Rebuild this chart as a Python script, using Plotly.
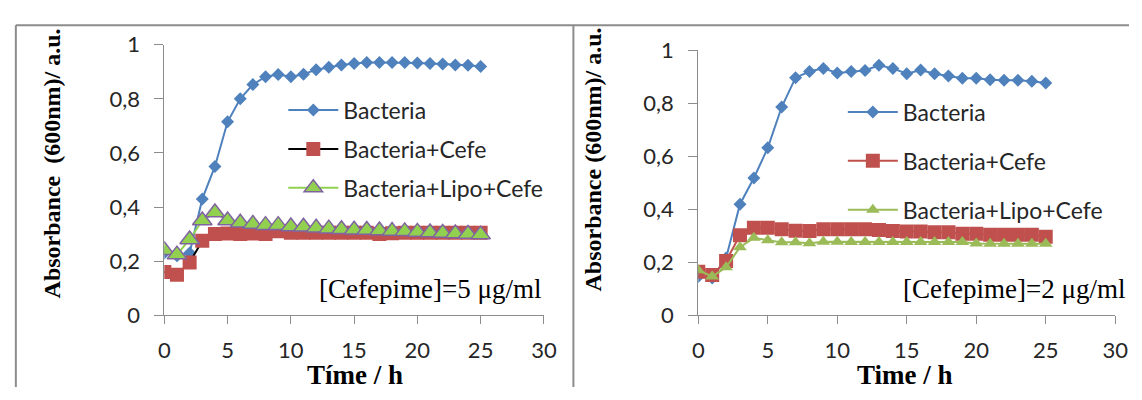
import plotly.graph_objects as go

# Sampling times (h)
time_h = list(range(26))

# [Cefepime] = 5 ug/ml
bact_5 = [0.23, 0.22, 0.23, 0.43, 0.55, 0.715, 0.80, 0.853, 0.882, 0.89, 0.882, 0.891, 0.908,
          0.917, 0.925, 0.931, 0.934, 0.934, 0.934, 0.934, 0.933, 0.931, 0.929, 0.925, 0.924, 0.92]
cefe_5 = [0.16, 0.15, 0.195, 0.275, 0.30, 0.302, 0.30, 0.302, 0.30, 0.31, 0.305, 0.305, 0.305,
          0.305, 0.305, 0.305, 0.305, 0.30, 0.303, 0.305, 0.305, 0.305, 0.305, 0.305, 0.305, 0.305]
lipo_5 = [0.24, 0.224, 0.28, 0.35, 0.38, 0.35, 0.342, 0.337, 0.333, 0.333, 0.328, 0.327, 0.323,
          0.32, 0.318, 0.316, 0.315, 0.313, 0.311, 0.31, 0.308, 0.306, 0.304, 0.302, 0.30, 0.298]

# [Cefepime] = 2 ug/ml
bact_2 = [0.146, 0.14, 0.216, 0.419, 0.518, 0.632, 0.786, 0.897, 0.92, 0.932, 0.915, 0.92, 0.924,
          0.944, 0.932, 0.912, 0.926, 0.912, 0.903, 0.895, 0.895, 0.889, 0.887, 0.887, 0.883, 0.877]
cefe_2 = [0.164, 0.152, 0.205, 0.302, 0.33, 0.33, 0.325, 0.319, 0.318, 0.325, 0.325, 0.325, 0.325,
          0.322, 0.318, 0.316, 0.316, 0.313, 0.313, 0.308, 0.308, 0.304, 0.304, 0.304, 0.304, 0.296]
lipo_2 = [0.17, 0.146, 0.181, 0.257, 0.292, 0.283, 0.275, 0.275, 0.272, 0.277, 0.277, 0.276, 0.276,
          0.276, 0.276, 0.276, 0.276, 0.276, 0.276, 0.276, 0.271, 0.27, 0.27, 0.27, 0.27, 0.27]

series_names = ["Bacteria", "Bacteria+Cefe", "Bacteria+Lipo+Cefe"]
y_ticks = [0, 0.2, 0.4, 0.6, 0.8, 1]
x_ticks = [0, 5, 10, 15, 20, 25, 30]

BLUE = "#4F81BD"
RED = "#C0504D"
GREEN_L = "#92D050"
GREEN_R = "#9BBB59"
PURPLE = "#8064A2"

W, H = 1142, 400


def px_x(p):
    return p / W


def px_y(p):
    return 1 - p / H


fig = go.Figure()

# left panel traces
fig.add_trace(go.Scatter(x=time_h, y=bact_5, name=series_names[0], mode="lines+markers",
                         line=dict(color=BLUE, width=2),
                         marker=dict(symbol="diamond", size=10, color=BLUE),
                         xaxis="x", yaxis="y", legend="legend", legendgroup="a"))
fig.add_trace(go.Scatter(x=time_h, y=cefe_5, name=series_names[1], mode="lines+markers",
                         line=dict(color="black", width=2),
                         marker=dict(symbol="square", size=14, color=RED),
                         xaxis="x", yaxis="y", legend="legend", legendgroup="b"))
fig.add_trace(go.Scatter(x=time_h, y=lipo_5, name=series_names[2], mode="lines+markers",
                         line=dict(color=GREEN_L, width=2),
                         marker=dict(symbol="triangle-up", size=17, color=GREEN_L,
                                     line=dict(color=PURPLE, width=1.5)),
                         xaxis="x", yaxis="y", legend="legend", legendgroup="c"))

# right panel traces
fig.add_trace(go.Scatter(x=time_h, y=bact_2, name=series_names[0], mode="lines+markers",
                         line=dict(color=BLUE, width=2),
                         marker=dict(symbol="diamond", size=10, color=BLUE),
                         xaxis="x2", yaxis="y2", legend="legend2", legendgroup="d"))
fig.add_trace(go.Scatter(x=time_h, y=cefe_2, name=series_names[1], mode="lines+markers",
                         line=dict(color=RED, width=2),
                         marker=dict(symbol="square", size=14, color=RED),
                         xaxis="x2", yaxis="y2", legend="legend2", legendgroup="e"))
fig.add_trace(go.Scatter(x=time_h, y=lipo_2, name=series_names[2], mode="lines+markers",
                         line=dict(color=GREEN_R, width=2),
                         marker=dict(symbol="triangle-up", size=12, color=GREEN_R),
                         xaxis="x2", yaxis="y2", legend="legend2", legendgroup="f"))

tick_font = dict(family="Lato", size=22, color="#262626")
axis_common = dict(showline=True, linecolor="#8C8C8C", linewidth=1, ticks="outside",
                   tickcolor="#8C8C8C", showgrid=False, zeroline=False, tickfont=tick_font)

legend_font = dict(family="Lato", size=23, color="#262626")

fig.update_layout(
    width=W, height=H,
    margin=dict(l=0, r=0, t=0, b=0),
    paper_bgcolor="white", plot_bgcolor="white",
    separators=", ",
    xaxis=dict(domain=[px_x(161), px_x(547)], range=[0, 30], tickvals=x_ticks,
               anchor="y", ticklen=8, ticklabelstandoff=7, **axis_common),
    yaxis=dict(domain=[px_y(323), px_y(33)], range=[0, 1], tickvals=y_ticks,
               anchor="x", ticklen=9, ticklabelstandoff=10, **axis_common),
    xaxis2=dict(domain=[px_x(704), px_x(1128)], range=[0, 30], tickvals=x_ticks,
                anchor="y2", ticklen=8, ticklabelstandoff=7, **axis_common),
    yaxis2=dict(domain=[px_y(323), px_y(39)], range=[0, 1], tickvals=y_ticks,
                anchor="x2", ticklen=9, ticklabelstandoff=10, **axis_common),
    legend=dict(x=px_x(282), xanchor="left", y=px_y(80), yanchor="top",
                bgcolor="rgba(0,0,0,0)", font=legend_font, tracegroupgap=6, itemwidth=50),
    legend2=dict(x=px_x(851), xanchor="left", y=px_y(82), yanchor="top",
                 bgcolor="rgba(0,0,0,0)", font=legend_font, tracegroupgap=16, itemwidth=50),
)

title_font = dict(family="Liberation Serif", size=24, color="black")
fig.add_annotation(text="<b>Absorbance  (600nm)/ a.u.</b>", textangle=-90, xref="paper", yref="paper",
                   x=px_x(47), y=px_y(160), xanchor="center", yanchor="middle",
                   showarrow=False, font=title_font)
fig.add_annotation(text="<b>Absorbance (600nm)/ a.u.</b>", textangle=-90, xref="paper", yref="paper",
                   x=px_x(597), y=px_y(156), xanchor="center", yanchor="middle",
                   showarrow=False, font=title_font)
xt_font = dict(family="Liberation Serif", size=27, color="black")
fig.add_annotation(text="<b>Tíme / h</b>", xref="paper", yref="paper", x=px_x(355), y=px_y(387),
                   xanchor="center", yanchor="middle", showarrow=False, font=xt_font)
fig.add_annotation(text="<b>Time / h</b>", xref="paper", yref="paper", x=px_x(914), y=px_y(387),
                   xanchor="center", yanchor="middle", showarrow=False, font=xt_font)

conc_font = dict(family="Liberation Serif", size=27, color="black")
fig.add_annotation(text="[Cefepime]=5 μg/ml", xref="paper", yref="paper", x=px_x(546), xanchor="right",
                   y=px_y(295), yanchor="middle", showarrow=False, font=conc_font)
fig.add_annotation(text="[Cefepime]=2 μg/ml", xref="paper", yref="paper", x=px_x(1140), xanchor="right",
                   y=px_y(295), yanchor="middle", showarrow=False, font=conc_font)

# panel frames
frame = dict(color="#8C8C8C", width=2)
fig.add_shape(type="line", xref="paper", yref="paper", x0=px_x(10), x1=1, y0=px_y(12), y1=px_y(12), line=frame)
fig.add_shape(type="line", xref="paper", yref="paper", x0=px_x(10), x1=px_x(10), y0=px_y(12), y1=0, line=frame)
fig.add_shape(type="line", xref="paper", yref="paper", x0=px_x(577), x1=px_x(577), y0=px_y(12), y1=0, line=frame)

fig.write_html("out.html")
